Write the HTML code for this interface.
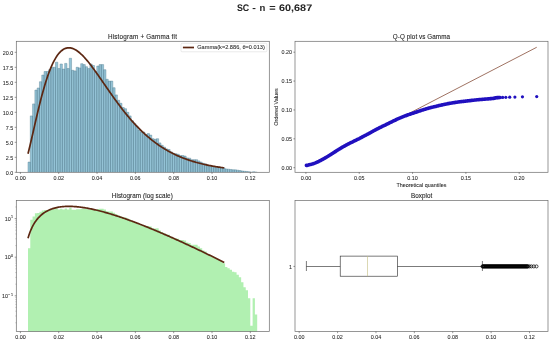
<!DOCTYPE html><html><head><meta charset="utf-8"><style>html,body{margin:0;padding:0;background:#fff;}svg{display:block;will-change:transform}text{font-family:"Liberation Sans",sans-serif;fill:#262626;stroke:#262626;stroke-width:0.06px}</style></head><body>
<svg width="550" height="343" viewBox="0 0 550 343">
<rect x="0" y="0" width="550" height="343" fill="#fff"/>
<text transform="scale(0.25)" x="947.6" y="43.2" font-size="38.0" font-weight="bold" text-rendering="geometricPrecision" fill="#111" stroke="#111" stroke-width="2.0" textLength="49.2" lengthAdjust="spacingAndGlyphs">SC</text>
<text transform="scale(0.25)" x="1008.8" y="43.2" font-size="38.0" font-weight="bold" text-rendering="geometricPrecision" fill="#111" stroke="#111" stroke-width="2.0" textLength="14.4" lengthAdjust="spacingAndGlyphs">-</text>
<text transform="scale(0.25)" x="1038.4" y="43.2" font-size="38.0" font-weight="bold" text-rendering="geometricPrecision" fill="#111" stroke="#111" stroke-width="2.0" textLength="23.2" lengthAdjust="spacingAndGlyphs">n</text>
<text transform="scale(0.25)" x="1077.2" y="43.2" font-size="38.0" font-weight="bold" text-rendering="geometricPrecision" fill="#111" stroke="#111" stroke-width="2.0" textLength="25.6" lengthAdjust="spacingAndGlyphs">=</text>
<text transform="scale(0.25)" x="1116.0" y="43.2" font-size="38.0" font-weight="bold" text-rendering="geometricPrecision" fill="#111" stroke="#111" stroke-width="2.0" textLength="132.8" lengthAdjust="spacingAndGlyphs">60,687</text>
<clipPath id="cTL"><rect x="16.3" y="41.3" width="253.0" height="131.0"/></clipPath>
<g clip-path="url(#cTL)">
<path d="M28.00 172.3V162.10H30.29V172.3M30.29 172.3V115.90H32.58V172.3M32.58 172.3V103.90H34.88V172.3M34.88 172.3V90.10H37.17V172.3M37.17 172.3V88.00H39.46V172.3M39.46 172.3V81.70H41.75V172.3M41.75 172.3V75.10H44.04V172.3M44.04 172.3V71.50H46.34V172.3M46.34 172.3V71.50H48.63V172.3M48.63 172.3V69.70H50.92V172.3M50.92 172.3V67.30H53.21V172.3M53.21 172.3V67.30H55.50V172.3M55.50 172.3V62.20H57.80V172.3M57.80 172.3V68.50H60.09V172.3M60.09 172.3V64.00H62.38V172.3M62.38 172.3V69.10H64.67V172.3M64.67 172.3V63.40H66.96V172.3M66.96 172.3V68.50H69.26V172.3M69.26 172.3V58.30H71.55V172.3M71.55 172.3V70.30H73.84V172.3M73.84 172.3V70.90H76.13V172.3M76.13 172.3V67.30H78.42V172.3M78.42 172.3V67.90H80.72V172.3M80.72 172.3V63.70H83.01V172.3M83.01 172.3V64.60H85.30V172.3M85.30 172.3V66.70H87.59V172.3M87.59 172.3V68.50H89.88V172.3M89.88 172.3V64.00H92.18V172.3M92.18 172.3V65.50H94.47V172.3M94.47 172.3V71.50H96.76V172.3M96.76 172.3V66.10H99.05V172.3M99.05 172.3V64.60H101.34V172.3M101.34 172.3V64.60H103.64V172.3M103.64 172.3V69.70H105.93V172.3M105.93 172.3V79.30H108.22V172.3M108.22 172.3V81.10H110.51V172.3M110.51 172.3V81.10H112.80V172.3M112.80 172.3V87.70H115.10V172.3M115.10 172.3V94.90H117.39V172.3M117.39 172.3V100.30H119.68V172.3M119.68 172.3V103.30H121.97V172.3M121.97 172.3V107.50H124.26V172.3M124.26 172.3V108.70H126.56V172.3M126.56 172.3V112.30H128.85V172.3M128.85 172.3V115.90H131.14V172.3M131.14 172.3V120.70H133.43V172.3M133.43 172.3V123.40H135.72V172.3M135.72 172.3V126.10H138.02V172.3M138.02 172.3V130.00H140.31V172.3M140.31 172.3V132.10H142.60V172.3M142.60 172.3V132.10H144.89V172.3M144.89 172.3V134.50H147.18V172.3M147.18 172.3V133.60H149.48V172.3M149.48 172.3V135.10H151.77V172.3M151.77 172.3V138.70H154.06V172.3M154.06 172.3V139.30H156.35V172.3M156.35 172.3V138.70H158.64V172.3M158.64 172.3V142.90H160.94V172.3M160.94 172.3V145.30H163.23V172.3M163.23 172.3V147.10H165.52V172.3M165.52 172.3V148.90H167.81V172.3M167.81 172.3V149.50H170.10V172.3M170.10 172.3V151.90H172.40V172.3M172.40 172.3V153.40H174.69V172.3M174.69 172.3V153.70H176.98V172.3M176.98 172.3V154.30H179.27V172.3M179.27 172.3V155.50H181.56V172.3M181.56 172.3V155.50H183.86V172.3M183.86 172.3V156.10H186.15V172.3M186.15 172.3V157.90H188.44V172.3M188.44 172.3V158.20H190.73V172.3M190.73 172.3V159.70H193.02V172.3M193.02 172.3V159.70H195.32V172.3M195.32 172.3V159.70H197.61V172.3M197.61 172.3V160.90H199.90V172.3M199.90 172.3V162.10H202.19V172.3M202.19 172.3V163.30H204.48V172.3M204.48 172.3V163.90H206.78V172.3M206.78 172.3V165.10H209.07V172.3M209.07 172.3V165.70H211.36V172.3M211.36 172.3V166.00H213.65V172.3M213.65 172.3V166.60H215.94V172.3M215.94 172.3V166.90H218.24V172.3M218.24 172.3V167.20H220.53V172.3M220.53 172.3V167.50H222.82V172.3M222.82 172.3V168.10H225.11V172.3M225.11 172.3V168.94H227.40V172.3M227.40 172.3V169.18H229.70V172.3M229.70 172.3V169.48H231.99V172.3M231.99 172.3V169.78H234.28V172.3M234.28 172.3V169.86H236.57V172.3M236.57 172.3V170.20H238.86V172.3M238.86 172.3V170.49H241.16V172.3M241.16 172.3V170.96H243.45V172.3M243.45 172.3V171.30H245.74V172.3M245.74 172.3V171.46H248.03V172.3M248.03 172.3V171.78H250.32V172.3M250.32 172.3V172.20H252.62V172.3M252.62 172.3V171.78H254.91V172.3M254.91 172.3V172.10H257.20V172.3" fill="#94c3d6" stroke="#5d8799" stroke-width="0.45"/>
<polyline points="28.00,153.73 28.99,149.80 29.97,145.72 30.96,141.53 31.94,137.25 32.93,132.94 33.92,128.60 34.90,124.28 35.89,119.98 36.88,115.74 37.86,111.56 38.85,107.47 39.83,103.47 40.82,99.58 41.81,95.81 42.79,92.17 43.78,88.66 44.77,85.29 45.75,82.06 46.74,78.98 47.72,76.05 48.71,73.27 49.70,70.65 50.68,68.18 51.67,65.86 52.66,63.69 53.64,61.67 54.63,59.81 55.61,58.09 56.60,56.52 57.59,55.09 58.57,53.80 59.56,52.64 60.55,51.62 61.53,50.73 62.52,49.96 63.50,49.32 64.49,48.80 65.48,48.39 66.46,48.09 67.45,47.90 68.44,47.81 69.42,47.82 70.41,47.92 71.39,48.12 72.38,48.40 73.37,48.77 74.35,49.22 75.34,49.74 76.33,50.33 77.31,51.00 78.30,51.72 79.28,52.51 80.27,53.36 81.26,54.26 82.24,55.21 83.23,56.21 84.22,57.25 85.20,58.34 86.19,59.47 87.17,60.63 88.16,61.82 89.15,63.05 90.13,64.30 91.12,65.58 92.11,66.89 93.09,68.21 94.08,69.56 95.06,70.92 96.05,72.29 97.04,73.68 98.02,75.08 99.01,76.49 100.00,77.91 100.98,79.33 101.97,80.76 102.95,82.19 103.94,83.62 104.93,85.05 105.91,86.48 106.90,87.91 107.89,89.34 108.87,90.76 109.86,92.17 110.84,93.58 111.83,94.98 112.82,96.37 113.80,97.76 114.79,99.13 115.78,100.50 116.76,101.85 117.75,103.19 118.73,104.52 119.72,105.83 120.71,107.13 121.69,108.42 122.68,109.69 123.67,110.95 124.65,112.20 125.64,113.43 126.62,114.64 127.61,115.84 128.60,117.02 129.58,118.18 130.57,119.33 131.56,120.46 132.54,121.58 133.53,122.68 134.51,123.76 135.50,124.82 136.49,125.87 137.47,126.90 138.46,127.92 139.45,128.92 140.43,129.90 141.42,130.86 142.40,131.81 143.39,132.74 144.38,133.65 145.36,134.54 146.35,135.42 147.34,136.29 148.32,137.14 149.31,137.97 150.29,138.78 151.28,139.58 152.27,140.37 153.25,141.14 154.24,141.89 155.23,142.63 156.21,143.35 157.20,144.06 158.18,144.75 159.17,145.43 160.16,146.10 161.14,146.75 162.13,147.38 163.12,148.01 164.10,148.62 165.09,149.21 166.07,149.80 167.06,150.37 168.05,150.93 169.03,151.47 170.02,152.00 171.01,152.53 171.99,153.04 172.98,153.53 173.96,154.02 174.95,154.49 175.94,154.96 176.92,155.41 177.91,155.85 178.90,156.29 179.88,156.71 180.87,157.12 181.85,157.52 182.84,157.92 183.83,158.30 184.81,158.67 185.80,159.04 186.79,159.39 187.77,159.74 188.76,160.08 189.74,160.41 190.73,160.73 191.72,161.05 192.70,161.35 193.69,161.65 194.68,161.94 195.66,162.23 196.65,162.50 197.63,162.77 198.62,163.03 199.61,163.29 200.59,163.54 201.58,163.78 202.57,164.02 203.55,164.25 204.54,164.47 205.52,164.69 206.51,164.91 207.50,165.11 208.48,165.31 209.47,165.51 210.45,165.70 211.44,165.89 212.43,166.07 213.41,166.25 214.40,166.42 215.39,166.59 216.37,166.75 217.36,166.91 218.34,167.06 219.33,167.21 220.32,167.36 221.30,167.50 222.29,167.64 223.28,167.77 224.26,167.90" fill="none" stroke="#5c2712" stroke-width="1.7"/>
</g>
<rect x="16.3" y="41.3" width="253.0" height="131.0" fill="none" stroke="#6a6a6a" stroke-width="0.7"/>
<rect x="181.0" y="43.3" width="85.9" height="8.5" rx="1" fill="#fff" fill-opacity="0.8" stroke="#ccc" stroke-width="0.4"/>
<line x1="182.9" y1="47.5" x2="194" y2="47.5" stroke="#5c2712" stroke-width="1.7"/>
<text x="197.2" y="49.3" font-size="4.7" style="stroke-width:0.06px" textLength="67.6" lengthAdjust="spacingAndGlyphs">Gamma(k=2.886, θ=0.013)</text>
<line x1="20.40" y1="172.3" x2="20.40" y2="173.9" stroke="#333" stroke-width="0.5"/>
<text x="20.40" y="180.2" text-anchor="middle" font-size="5.4">0.00</text>
<line x1="58.72" y1="172.3" x2="58.72" y2="173.9" stroke="#333" stroke-width="0.5"/>
<text x="58.72" y="180.2" text-anchor="middle" font-size="5.4">0.02</text>
<line x1="97.04" y1="172.3" x2="97.04" y2="173.9" stroke="#333" stroke-width="0.5"/>
<text x="97.04" y="180.2" text-anchor="middle" font-size="5.4">0.04</text>
<line x1="135.36" y1="172.3" x2="135.36" y2="173.9" stroke="#333" stroke-width="0.5"/>
<text x="135.36" y="180.2" text-anchor="middle" font-size="5.4">0.06</text>
<line x1="173.68" y1="172.3" x2="173.68" y2="173.9" stroke="#333" stroke-width="0.5"/>
<text x="173.68" y="180.2" text-anchor="middle" font-size="5.4">0.08</text>
<line x1="212.00" y1="172.3" x2="212.00" y2="173.9" stroke="#333" stroke-width="0.5"/>
<text x="212.00" y="180.2" text-anchor="middle" font-size="5.4">0.10</text>
<line x1="250.32" y1="172.3" x2="250.32" y2="173.9" stroke="#333" stroke-width="0.5"/>
<text x="250.32" y="180.2" text-anchor="middle" font-size="5.4">0.12</text>
<line x1="14.700000000000001" y1="172.30" x2="16.3" y2="172.30" stroke="#333" stroke-width="0.5"/>
<text x="13.2" y="174.50" text-anchor="end" font-size="5.4">0.0</text>
<line x1="14.700000000000001" y1="157.30" x2="16.3" y2="157.30" stroke="#333" stroke-width="0.5"/>
<text x="13.2" y="159.50" text-anchor="end" font-size="5.4">2.5</text>
<line x1="14.700000000000001" y1="142.30" x2="16.3" y2="142.30" stroke="#333" stroke-width="0.5"/>
<text x="13.2" y="144.50" text-anchor="end" font-size="5.4">5.0</text>
<line x1="14.700000000000001" y1="127.30" x2="16.3" y2="127.30" stroke="#333" stroke-width="0.5"/>
<text x="13.2" y="129.50" text-anchor="end" font-size="5.4">7.5</text>
<line x1="14.700000000000001" y1="112.30" x2="16.3" y2="112.30" stroke="#333" stroke-width="0.5"/>
<text x="13.2" y="114.50" text-anchor="end" font-size="5.4">10.0</text>
<line x1="14.700000000000001" y1="97.30" x2="16.3" y2="97.30" stroke="#333" stroke-width="0.5"/>
<text x="13.2" y="99.50" text-anchor="end" font-size="5.4">12.5</text>
<line x1="14.700000000000001" y1="82.30" x2="16.3" y2="82.30" stroke="#333" stroke-width="0.5"/>
<text x="13.2" y="84.50" text-anchor="end" font-size="5.4">15.0</text>
<line x1="14.700000000000001" y1="67.30" x2="16.3" y2="67.30" stroke="#333" stroke-width="0.5"/>
<text x="13.2" y="69.50" text-anchor="end" font-size="5.4">17.5</text>
<line x1="14.700000000000001" y1="52.30" x2="16.3" y2="52.30" stroke="#333" stroke-width="0.5"/>
<text x="13.2" y="54.50" text-anchor="end" font-size="5.4">20.0</text>
<text x="142.4" y="38.7" text-anchor="middle" font-size="6.3" textLength="69" lengthAdjust="spacing" style="stroke-width:0.1px">Histogram + Gamma fit</text>
<clipPath id="cTR"><rect x="295.0" y="41.3" width="253.0" height="131.0"/></clipPath>
<g clip-path="url(#cTR)">
<line x1="306.40" y1="166.58" x2="536.74" y2="47.26" stroke="#946250" stroke-width="0.9"/>
<polyline points="306.40,165.41 307.00,165.37 307.62,165.28 308.22,165.10 308.83,164.82 309.44,164.67 310.04,164.57 310.64,164.46 311.25,164.31 311.85,164.14 312.45,163.96 313.05,163.78 313.65,163.57 314.26,163.34 314.86,163.13 315.46,162.90 316.06,162.65 316.66,162.39 317.26,162.12 317.86,161.84 318.46,161.55 319.06,161.25 319.66,160.96 320.26,160.66 320.86,160.35 321.47,160.03 322.07,159.71 322.67,159.38 323.27,159.04 323.87,158.69 324.47,158.34 325.07,157.99 325.67,157.64 326.27,157.28 326.87,156.92 327.47,156.57 328.07,156.20 328.67,155.81 329.27,155.44 329.87,155.07 330.47,154.68 331.07,154.29 331.67,153.91 332.27,153.53 332.87,153.14 333.47,152.76 334.07,152.41 334.67,152.02 335.28,151.62 335.88,151.22 336.48,150.83 337.08,150.44 337.68,150.06 338.28,149.68 338.88,149.31 339.48,148.95 340.08,148.59 340.68,148.24 341.28,147.88 341.88,147.52 342.48,147.16 343.08,146.81 343.68,146.47 344.28,146.14 344.88,145.81 345.48,145.48 346.08,145.14 346.68,144.80 347.29,144.48 347.89,144.16 348.49,143.86 349.09,143.56 349.69,143.26 350.29,142.97 350.89,142.69 351.49,142.40 352.09,142.11 352.69,141.82 353.29,141.51 353.89,141.21 354.49,140.90 355.09,140.61 355.69,140.31 356.29,140.03 356.89,139.74 357.50,139.44 358.10,139.15 358.70,138.84 359.30,138.54 359.90,138.22 360.50,137.91 361.10,137.59 361.70,137.28 362.30,136.96 362.90,136.64 363.50,136.33 364.10,136.02 364.70,135.71 365.31,135.39 365.91,135.09 366.51,134.77 367.11,134.46 367.71,134.13 368.31,133.81 368.91,133.48 369.51,133.15 370.11,132.82 370.72,132.49 371.32,132.16 371.92,131.81 372.52,131.47 373.12,131.13 373.72,130.79 374.32,130.46 374.93,130.14 375.53,129.81 376.13,129.48 376.73,129.17 377.33,128.87 377.93,128.57 378.53,128.28 379.14,127.98 379.74,127.67 380.34,127.36 380.94,127.06 381.54,126.77 382.14,126.49 382.74,126.22 383.35,125.94 383.95,125.65 384.55,125.36 385.15,125.06 385.76,124.77 386.36,124.47 386.96,124.17 387.56,123.87 388.16,123.57 388.77,123.27 389.37,122.98 389.97,122.69 390.58,122.39 391.18,122.09 391.78,121.79 392.38,121.48 392.98,121.18 393.59,120.89 394.19,120.60 394.79,120.31 395.39,120.03 396.00,119.76 396.60,119.47 397.20,119.20 397.81,118.93 398.41,118.67 399.01,118.42 399.62,118.17 400.22,117.93 400.83,117.68 401.43,117.42 402.03,117.17 402.64,116.92 403.24,116.68 403.85,116.44 404.46,116.19 405.06,115.95 405.67,115.70 406.28,115.47 406.88,115.25 407.49,115.03 408.09,114.82 408.69,114.61 409.31,114.41 409.91,114.21 410.51,114.00 411.13,113.80 411.74,113.60 412.34,113.39 412.95,113.19 413.55,112.99 414.16,112.79 414.77,112.57 415.38,112.37 416.00,112.17 416.61,111.96 417.22,111.76 417.82,111.57 418.43,111.36 419.03,111.15 419.65,110.94 420.27,110.74 420.89,110.53 421.49,110.32 422.09,110.13 422.72,109.93 423.33,109.74 423.93,109.55 424.55,109.36 425.16,109.17 425.80,108.98 426.42,108.80 427.02,108.62 427.65,108.44 428.26,108.26 428.89,108.09 429.50,107.93 430.13,107.76 430.74,107.60 431.37,107.44 431.98,107.29 432.61,107.13 433.26,106.97 433.88,106.83 434.53,106.68 435.14,106.53 435.77,106.38 436.43,106.23 437.04,106.09 437.68,105.95 438.35,105.77 438.96,105.62 439.60,105.47 440.27,105.31 440.88,105.16 441.51,105.02 442.17,104.87 442.85,104.72 443.47,104.59 444.11,104.44 444.78,104.30 445.47,104.16 446.09,104.04 446.72,103.91 447.39,103.77 448.07,103.64 448.79,103.50 449.41,103.38 450.05,103.27 450.71,103.15 451.40,103.03 452.12,102.92 452.87,102.80 453.50,102.70 454.15,102.61 454.82,102.51 455.52,102.40 456.25,102.29 457.01,102.18 457.81,102.07 458.43,101.99 459.07,101.90 459.74,101.82 460.44,101.72 461.16,101.63 461.92,101.53 462.71,101.44 463.55,101.34 464.42,101.24 465.03,101.18 465.66,101.10 466.31,101.02 466.99,100.93 467.70,100.84 468.43,100.76 469.20,100.67 470.01,100.59 470.86,100.50 471.75,100.40 472.69,100.28 473.69,100.17 474.75,100.05 475.87,99.94 477.08,99.82 477.72,99.76 478.38,99.69 479.07,99.62 479.79,99.55 480.54,99.48 481.33,99.42 482.15,99.35 483.02,99.28 483.93,99.21 484.90,99.14 485.93,99.06 487.02,98.95 488.19,98.84 489.44,98.73 490.80,98.61 492.28,98.50 493.90,98.36 495.69,97.78 497.70,97.61 499.99,97.50" fill="none" stroke="#2010bf" stroke-width="3.6" stroke-linecap="round" stroke-linejoin="round"/>
<circle cx="490.80" cy="98.61" r="1.6" fill="#2010bf"/>
<circle cx="492.28" cy="98.50" r="1.6" fill="#2010bf"/>
<circle cx="493.90" cy="98.36" r="1.6" fill="#2010bf"/>
<circle cx="495.69" cy="97.78" r="1.6" fill="#2010bf"/>
<circle cx="497.70" cy="97.61" r="1.6" fill="#2010bf"/>
<circle cx="499.99" cy="97.50" r="1.6" fill="#2010bf"/>
<circle cx="502.65" cy="97.39" r="1.6" fill="#2010bf"/>
<circle cx="505.81" cy="97.28" r="1.6" fill="#2010bf"/>
<circle cx="509.74" cy="97.16" r="1.6" fill="#2010bf"/>
<circle cx="514.89" cy="97.05" r="1.6" fill="#2010bf"/>
<circle cx="522.45" cy="96.82" r="1.6" fill="#2010bf"/>
<circle cx="536.74" cy="96.53" r="1.6" fill="#2010bf"/>
</g>
<rect x="295.0" y="41.3" width="253.0" height="131.0" fill="none" stroke="#6a6a6a" stroke-width="0.7"/>
<line x1="305.90" y1="172.3" x2="305.90" y2="173.9" stroke="#333" stroke-width="0.5"/>
<text x="305.90" y="180.2" text-anchor="middle" font-size="5.4">0.00</text>
<line x1="359.22" y1="172.3" x2="359.22" y2="173.9" stroke="#333" stroke-width="0.5"/>
<text x="359.22" y="180.2" text-anchor="middle" font-size="5.4">0.05</text>
<line x1="412.55" y1="172.3" x2="412.55" y2="173.9" stroke="#333" stroke-width="0.5"/>
<text x="412.55" y="180.2" text-anchor="middle" font-size="5.4">0.10</text>
<line x1="465.88" y1="172.3" x2="465.88" y2="173.9" stroke="#333" stroke-width="0.5"/>
<text x="465.88" y="180.2" text-anchor="middle" font-size="5.4">0.15</text>
<line x1="519.20" y1="172.3" x2="519.20" y2="173.9" stroke="#333" stroke-width="0.5"/>
<text x="519.20" y="180.2" text-anchor="middle" font-size="5.4">0.20</text>
<line x1="293.4" y1="167.70" x2="295.0" y2="167.70" stroke="#333" stroke-width="0.5"/>
<text x="292.0" y="169.90" text-anchor="end" font-size="5.4">0.00</text>
<line x1="293.4" y1="138.82" x2="295.0" y2="138.82" stroke="#333" stroke-width="0.5"/>
<text x="292.0" y="141.02" text-anchor="end" font-size="5.4">0.05</text>
<line x1="293.4" y1="109.95" x2="295.0" y2="109.95" stroke="#333" stroke-width="0.5"/>
<text x="292.0" y="112.15" text-anchor="end" font-size="5.4">0.10</text>
<line x1="293.4" y1="81.07" x2="295.0" y2="81.07" stroke="#333" stroke-width="0.5"/>
<text x="292.0" y="83.27" text-anchor="end" font-size="5.4">0.15</text>
<line x1="293.4" y1="52.20" x2="295.0" y2="52.20" stroke="#333" stroke-width="0.5"/>
<text x="292.0" y="54.40" text-anchor="end" font-size="5.4">0.20</text>
<text x="421.4" y="186.6" text-anchor="middle" font-size="5.4" textLength="50" lengthAdjust="spacingAndGlyphs">Theoretical quantiles</text>
<text transform="translate(278,107) rotate(-90)" x="0" y="0" text-anchor="middle" font-size="5.4" textLength="37.6" lengthAdjust="spacingAndGlyphs">Ordered Values</text>
<text x="421.4" y="38.7" text-anchor="middle" font-size="6.3" textLength="57.2" lengthAdjust="spacing" style="stroke-width:0.1px">Q-Q plot vs Gamma</text>
<clipPath id="cBL"><rect x="16.3" y="200.5" width="253.0" height="131.10000000000002"/></clipPath>
<g clip-path="url(#cBL)">
<path d="M28.00 336.6V248.30H30.29V336.6M30.29 336.6V219.64H32.58V336.6M32.58 336.6V216.40H34.88V336.6M34.88 336.6V213.32H37.17V336.6M37.17 336.6V212.90H39.46V336.6M39.46 336.6V211.69H41.75V336.6M41.75 336.6V210.51H44.04V336.6M44.04 336.6V209.90H46.34V336.6M46.34 336.6V209.90H48.63V336.6M48.63 336.6V209.61H50.92V336.6M50.92 336.6V209.22H53.21V336.6M53.21 336.6V209.22H55.50V336.6M55.50 336.6V208.42H57.80V336.6M57.80 336.6V209.41H60.09V336.6M60.09 336.6V208.70H62.38V336.6M62.38 336.6V209.51H64.67V336.6M64.67 336.6V208.61H66.96V336.6M66.96 336.6V209.41H69.26V336.6M69.26 336.6V207.84H71.55V336.6M71.55 336.6V209.70H73.84V336.6M73.84 336.6V209.80H76.13V336.6M76.13 336.6V209.22H78.42V336.6M78.42 336.6V209.31H80.72V336.6M80.72 336.6V208.65H83.01V336.6M83.01 336.6V208.79H85.30V336.6M85.30 336.6V209.12H87.59V336.6M87.59 336.6V209.41H89.88V336.6M89.88 336.6V208.70H92.18V336.6M92.18 336.6V208.93H94.47V336.6M94.47 336.6V209.90H96.76V336.6M96.76 336.6V209.03H99.05V336.6M99.05 336.6V208.79H101.34V336.6M101.34 336.6V208.79H103.64V336.6M103.64 336.6V209.61H105.93V336.6M105.93 336.6V211.25H108.22V336.6M108.22 336.6V211.58H110.51V336.6M110.51 336.6V211.58H112.80V336.6M112.80 336.6V212.84H115.10V336.6M115.10 336.6V214.33H117.39V336.6M117.39 336.6V215.54H119.68V336.6M119.68 336.6V216.26H121.97V336.6M121.97 336.6V217.31H124.26V336.6M124.26 336.6V217.62H126.56V336.6M126.56 336.6V218.60H128.85V336.6M128.85 336.6V219.64H131.14V336.6M131.14 336.6V221.13H133.43V336.6M133.43 336.6V222.03H135.72V336.6M135.72 336.6V222.98H138.02V336.6M138.02 336.6V224.46H140.31V336.6M140.31 336.6V225.31H142.60V336.6M142.60 336.6V225.31H144.89V336.6M144.89 336.6V226.35H147.18V336.6M147.18 336.6V225.95H149.48V336.6M149.48 336.6V226.61H151.77V336.6M151.77 336.6V228.32H154.06V336.6M154.06 336.6V228.62H156.35V336.6M156.35 336.6V228.32H158.64V336.6M158.64 336.6V230.56H160.94V336.6M160.94 336.6V231.99H163.23V336.6M163.23 336.6V233.14H165.52V336.6M165.52 336.6V234.38H167.81V336.6M167.81 336.6V234.82H170.10V336.6M170.10 336.6V236.68H172.40V336.6M172.40 336.6V237.97H174.69V336.6M174.69 336.6V238.23H176.98V336.6M176.98 336.6V238.78H179.27V336.6M179.27 336.6V239.94H181.56V336.6M181.56 336.6V239.94H183.86V336.6M183.86 336.6V240.55H186.15V336.6M186.15 336.6V242.52H188.44V336.6M188.44 336.6V242.88H190.73V336.6M190.73 336.6V244.76H193.02V336.6M193.02 336.6V244.76H195.32V336.6M195.32 336.6V244.76H197.61V336.6M197.61 336.6V246.44H199.90V336.6M199.90 336.6V248.30H202.19V336.6M202.19 336.6V250.40H204.48V336.6M204.48 336.6V251.56H206.78V336.6M206.78 336.6V254.14H209.07V336.6M209.07 336.6V255.60H211.36V336.6M211.36 336.6V256.38H213.65V336.6M213.65 336.6V258.06H215.94V336.6M215.94 336.6V258.97H218.24V336.6M218.24 336.6V259.92H220.53V336.6M220.53 336.6V260.94H222.82V336.6M222.82 336.6V263.18H225.11V336.6M225.11 336.6V266.92H227.40V336.6M227.40 336.6V268.16H229.70V336.6M229.70 336.6V269.86H231.99V336.6M231.99 336.6V271.74H234.28V336.6M234.28 336.6V272.31H236.57V336.6M236.57 336.6V274.80H238.86V336.6M238.86 336.6V277.27H241.16V336.6M241.16 336.6V282.28H243.45V336.6M243.45 336.6V287.20H245.74V336.6M245.74 336.6V290.16H248.03V336.6M248.03 336.6V298.33H250.32V336.6M250.32 336.6V325.70H252.62V336.6M252.62 336.6V298.33H254.91V336.6M254.91 336.6V314.39H257.20V336.6" fill="#b1f0b1" stroke="none"/>
<polyline points="28.00,238.26 28.99,235.04 29.97,232.25 30.96,229.79 31.94,227.61 32.93,225.67 33.92,223.91 34.90,222.33 35.89,220.90 36.88,219.59 37.86,218.39 38.85,217.30 39.83,216.30 40.82,215.38 41.81,214.53 42.79,213.75 43.78,213.03 44.77,212.37 45.75,211.76 46.74,211.20 47.72,210.68 48.71,210.20 49.70,209.76 50.68,209.36 51.67,208.99 52.66,208.65 53.64,208.34 54.63,208.06 55.61,207.81 56.60,207.58 57.59,207.37 58.57,207.19 59.56,207.03 60.55,206.89 61.53,206.76 62.52,206.66 63.50,206.57 64.49,206.50 65.48,206.44 66.46,206.40 67.45,206.38 68.44,206.36 69.42,206.37 70.41,206.38 71.39,206.41 72.38,206.44 73.37,206.49 74.35,206.56 75.34,206.63 76.33,206.71 77.31,206.80 78.30,206.90 79.28,207.01 80.27,207.13 81.26,207.26 82.24,207.39 83.23,207.54 84.22,207.69 85.20,207.85 86.19,208.01 87.17,208.19 88.16,208.37 89.15,208.55 90.13,208.75 91.12,208.95 92.11,209.15 93.09,209.37 94.08,209.58 95.06,209.81 96.05,210.04 97.04,210.27 98.02,210.51 99.01,210.75 100.00,211.00 100.98,211.26 101.97,211.52 102.95,211.78 103.94,212.05 104.93,212.32 105.91,212.60 106.90,212.88 107.89,213.17 108.87,213.46 109.86,213.75 110.84,214.05 111.83,214.35 112.82,214.65 113.80,214.96 114.79,215.27 115.78,215.59 116.76,215.91 117.75,216.23 118.73,216.56 119.72,216.88 120.71,217.22 121.69,217.55 122.68,217.89 123.67,218.23 124.65,218.57 125.64,218.92 126.62,219.27 127.61,219.62 128.60,219.97 129.58,220.33 130.57,220.69 131.56,221.05 132.54,221.42 133.53,221.78 134.51,222.15 135.50,222.53 136.49,222.90 137.47,223.28 138.46,223.65 139.45,224.04 140.43,224.42 141.42,224.80 142.40,225.19 143.39,225.58 144.38,225.97 145.36,226.37 146.35,226.76 147.34,227.16 148.32,227.56 149.31,227.96 150.29,228.36 151.28,228.77 152.27,229.17 153.25,229.58 154.24,229.99 155.23,230.40 156.21,230.82 157.20,231.23 158.18,231.65 159.17,232.07 160.16,232.49 161.14,232.91 162.13,233.33 163.12,233.76 164.10,234.18 165.09,234.61 166.07,235.04 167.06,235.47 168.05,235.90 169.03,236.34 170.02,236.77 171.01,237.21 171.99,237.64 172.98,238.08 173.96,238.52 174.95,238.97 175.94,239.41 176.92,239.85 177.91,240.30 178.90,240.74 179.88,241.19 180.87,241.64 181.85,242.09 182.84,242.54 183.83,243.00 184.81,243.45 185.80,243.90 186.79,244.36 187.77,244.82 188.76,245.28 189.74,245.73 190.73,246.19 191.72,246.66 192.70,247.12 193.69,247.58 194.68,248.05 195.66,248.51 196.65,248.98 197.63,249.45 198.62,249.91 199.61,250.38 200.59,250.85 201.58,251.33 202.57,251.80 203.55,252.27 204.54,252.75 205.52,253.22 206.51,253.70 207.50,254.17 208.48,254.65 209.47,255.13 210.45,255.61 211.44,256.09 212.43,256.57 213.41,257.05 214.40,257.54 215.39,258.02 216.37,258.50 217.36,258.99 218.34,259.48 219.33,259.96 220.32,260.45 221.30,260.94 222.29,261.43 223.28,261.92 224.26,262.41" fill="none" stroke="#5c2712" stroke-width="1.7"/>
</g>
<rect x="16.3" y="200.5" width="253.0" height="131.10000000000002" fill="none" stroke="#6a6a6a" stroke-width="0.7"/>
<line x1="20.40" y1="331.6" x2="20.40" y2="333.20000000000005" stroke="#333" stroke-width="0.5"/>
<text x="20.40" y="339.0" text-anchor="middle" font-size="5.4">0.00</text>
<line x1="58.72" y1="331.6" x2="58.72" y2="333.20000000000005" stroke="#333" stroke-width="0.5"/>
<text x="58.72" y="339.0" text-anchor="middle" font-size="5.4">0.02</text>
<line x1="97.04" y1="331.6" x2="97.04" y2="333.20000000000005" stroke="#333" stroke-width="0.5"/>
<text x="97.04" y="339.0" text-anchor="middle" font-size="5.4">0.04</text>
<line x1="135.36" y1="331.6" x2="135.36" y2="333.20000000000005" stroke="#333" stroke-width="0.5"/>
<text x="135.36" y="339.0" text-anchor="middle" font-size="5.4">0.06</text>
<line x1="173.68" y1="331.6" x2="173.68" y2="333.20000000000005" stroke="#333" stroke-width="0.5"/>
<text x="173.68" y="339.0" text-anchor="middle" font-size="5.4">0.08</text>
<line x1="212.00" y1="331.6" x2="212.00" y2="333.20000000000005" stroke="#333" stroke-width="0.5"/>
<text x="212.00" y="339.0" text-anchor="middle" font-size="5.4">0.10</text>
<line x1="250.32" y1="331.6" x2="250.32" y2="333.20000000000005" stroke="#333" stroke-width="0.5"/>
<text x="250.32" y="339.0" text-anchor="middle" font-size="5.4">0.12</text>
<line x1="14.700000000000001" y1="218.60" x2="16.3" y2="218.60" stroke="#333" stroke-width="0.5"/>
<text x="10.7" y="220.60" text-anchor="end" font-size="5.4">10</text>
<text x="10.9" y="218.40" text-anchor="start" font-size="3.7">1</text>
<line x1="14.700000000000001" y1="257.20" x2="16.3" y2="257.20" stroke="#333" stroke-width="0.5"/>
<text x="10.7" y="259.20" text-anchor="end" font-size="5.4">10</text>
<text x="10.9" y="257.00" text-anchor="start" font-size="3.7">0</text>
<line x1="14.700000000000001" y1="295.80" x2="16.3" y2="295.80" stroke="#333" stroke-width="0.5"/>
<text x="7.9" y="297.80" text-anchor="end" font-size="5.4">10</text>
<text x="8.1" y="295.60" text-anchor="start" font-size="3.7" textLength="4.9" lengthAdjust="spacing">−1</text>
<line x1="15.4" y1="322.78" x2="16.3" y2="322.78" stroke="#555" stroke-width="0.35"/>
<line x1="15.4" y1="315.98" x2="16.3" y2="315.98" stroke="#555" stroke-width="0.35"/>
<line x1="15.4" y1="311.16" x2="16.3" y2="311.16" stroke="#555" stroke-width="0.35"/>
<line x1="15.4" y1="307.42" x2="16.3" y2="307.42" stroke="#555" stroke-width="0.35"/>
<line x1="15.4" y1="304.36" x2="16.3" y2="304.36" stroke="#555" stroke-width="0.35"/>
<line x1="15.4" y1="301.78" x2="16.3" y2="301.78" stroke="#555" stroke-width="0.35"/>
<line x1="15.4" y1="299.54" x2="16.3" y2="299.54" stroke="#555" stroke-width="0.35"/>
<line x1="15.4" y1="297.57" x2="16.3" y2="297.57" stroke="#555" stroke-width="0.35"/>
<line x1="15.4" y1="284.18" x2="16.3" y2="284.18" stroke="#555" stroke-width="0.35"/>
<line x1="15.4" y1="277.38" x2="16.3" y2="277.38" stroke="#555" stroke-width="0.35"/>
<line x1="15.4" y1="272.56" x2="16.3" y2="272.56" stroke="#555" stroke-width="0.35"/>
<line x1="15.4" y1="268.82" x2="16.3" y2="268.82" stroke="#555" stroke-width="0.35"/>
<line x1="15.4" y1="265.76" x2="16.3" y2="265.76" stroke="#555" stroke-width="0.35"/>
<line x1="15.4" y1="263.18" x2="16.3" y2="263.18" stroke="#555" stroke-width="0.35"/>
<line x1="15.4" y1="260.94" x2="16.3" y2="260.94" stroke="#555" stroke-width="0.35"/>
<line x1="15.4" y1="258.97" x2="16.3" y2="258.97" stroke="#555" stroke-width="0.35"/>
<line x1="15.4" y1="245.58" x2="16.3" y2="245.58" stroke="#555" stroke-width="0.35"/>
<line x1="15.4" y1="238.78" x2="16.3" y2="238.78" stroke="#555" stroke-width="0.35"/>
<line x1="15.4" y1="233.96" x2="16.3" y2="233.96" stroke="#555" stroke-width="0.35"/>
<line x1="15.4" y1="230.22" x2="16.3" y2="230.22" stroke="#555" stroke-width="0.35"/>
<line x1="15.4" y1="227.16" x2="16.3" y2="227.16" stroke="#555" stroke-width="0.35"/>
<line x1="15.4" y1="224.58" x2="16.3" y2="224.58" stroke="#555" stroke-width="0.35"/>
<line x1="15.4" y1="222.34" x2="16.3" y2="222.34" stroke="#555" stroke-width="0.35"/>
<line x1="15.4" y1="220.37" x2="16.3" y2="220.37" stroke="#555" stroke-width="0.35"/>
<line x1="15.4" y1="206.98" x2="16.3" y2="206.98" stroke="#555" stroke-width="0.35"/>
<text x="142.3" y="198.4" text-anchor="middle" font-size="6.3" textLength="61" lengthAdjust="spacing" style="stroke-width:0.1px">Histogram (log scale)</text>
<rect x="295.0" y="200.5" width="253.0" height="131.10000000000002" fill="none" stroke="#6a6a6a" stroke-width="0.7"/>
<rect x="340.2" y="256.1" width="57.19999999999999" height="20.099999999999966" fill="none" stroke="#222" stroke-width="0.6"/>
<line x1="367.5" y1="256.1" x2="367.5" y2="276.2" stroke="#c2bd80" stroke-width="0.6"/>
<line x1="306.4" y1="266.5" x2="340.2" y2="266.5" stroke="#333" stroke-width="0.65"/>
<line x1="397.4" y1="266.5" x2="482.4" y2="266.5" stroke="#333" stroke-width="0.65"/>
<line x1="306.4" y1="261" x2="306.4" y2="271" stroke="#222" stroke-width="0.6"/>
<line x1="482.4" y1="261" x2="482.4" y2="271" stroke="#222" stroke-width="0.6"/>
<circle cx="482.50" cy="266.4" r="1.55" fill="none" stroke="#000" stroke-width="0.7"/>
<circle cx="483.00" cy="266.4" r="1.55" fill="none" stroke="#000" stroke-width="0.7"/>
<circle cx="483.50" cy="266.4" r="1.55" fill="none" stroke="#000" stroke-width="0.7"/>
<circle cx="484.00" cy="266.4" r="1.55" fill="none" stroke="#000" stroke-width="0.7"/>
<circle cx="484.50" cy="266.4" r="1.55" fill="none" stroke="#000" stroke-width="0.7"/>
<circle cx="485.00" cy="266.4" r="1.55" fill="none" stroke="#000" stroke-width="0.7"/>
<circle cx="485.50" cy="266.4" r="1.55" fill="none" stroke="#000" stroke-width="0.7"/>
<circle cx="486.00" cy="266.4" r="1.55" fill="none" stroke="#000" stroke-width="0.7"/>
<circle cx="486.50" cy="266.4" r="1.55" fill="none" stroke="#000" stroke-width="0.7"/>
<circle cx="487.00" cy="266.4" r="1.55" fill="none" stroke="#000" stroke-width="0.7"/>
<circle cx="487.50" cy="266.4" r="1.55" fill="none" stroke="#000" stroke-width="0.7"/>
<circle cx="488.00" cy="266.4" r="1.55" fill="none" stroke="#000" stroke-width="0.7"/>
<circle cx="488.50" cy="266.4" r="1.55" fill="none" stroke="#000" stroke-width="0.7"/>
<circle cx="489.00" cy="266.4" r="1.55" fill="none" stroke="#000" stroke-width="0.7"/>
<circle cx="489.50" cy="266.4" r="1.55" fill="none" stroke="#000" stroke-width="0.7"/>
<circle cx="490.00" cy="266.4" r="1.55" fill="none" stroke="#000" stroke-width="0.7"/>
<circle cx="490.50" cy="266.4" r="1.55" fill="none" stroke="#000" stroke-width="0.7"/>
<circle cx="491.00" cy="266.4" r="1.55" fill="none" stroke="#000" stroke-width="0.7"/>
<circle cx="491.50" cy="266.4" r="1.55" fill="none" stroke="#000" stroke-width="0.7"/>
<circle cx="492.00" cy="266.4" r="1.55" fill="none" stroke="#000" stroke-width="0.7"/>
<circle cx="492.50" cy="266.4" r="1.55" fill="none" stroke="#000" stroke-width="0.7"/>
<circle cx="493.00" cy="266.4" r="1.55" fill="none" stroke="#000" stroke-width="0.7"/>
<circle cx="493.50" cy="266.4" r="1.55" fill="none" stroke="#000" stroke-width="0.7"/>
<circle cx="494.00" cy="266.4" r="1.55" fill="none" stroke="#000" stroke-width="0.7"/>
<circle cx="494.50" cy="266.4" r="1.55" fill="none" stroke="#000" stroke-width="0.7"/>
<circle cx="495.00" cy="266.4" r="1.55" fill="none" stroke="#000" stroke-width="0.7"/>
<circle cx="495.50" cy="266.4" r="1.55" fill="none" stroke="#000" stroke-width="0.7"/>
<circle cx="496.00" cy="266.4" r="1.55" fill="none" stroke="#000" stroke-width="0.7"/>
<circle cx="496.50" cy="266.4" r="1.55" fill="none" stroke="#000" stroke-width="0.7"/>
<circle cx="497.00" cy="266.4" r="1.55" fill="none" stroke="#000" stroke-width="0.7"/>
<circle cx="497.50" cy="266.4" r="1.55" fill="none" stroke="#000" stroke-width="0.7"/>
<circle cx="498.00" cy="266.4" r="1.55" fill="none" stroke="#000" stroke-width="0.7"/>
<circle cx="498.50" cy="266.4" r="1.55" fill="none" stroke="#000" stroke-width="0.7"/>
<circle cx="499.00" cy="266.4" r="1.55" fill="none" stroke="#000" stroke-width="0.7"/>
<circle cx="499.50" cy="266.4" r="1.55" fill="none" stroke="#000" stroke-width="0.7"/>
<circle cx="500.00" cy="266.4" r="1.55" fill="none" stroke="#000" stroke-width="0.7"/>
<circle cx="500.50" cy="266.4" r="1.55" fill="none" stroke="#000" stroke-width="0.7"/>
<circle cx="501.00" cy="266.4" r="1.55" fill="none" stroke="#000" stroke-width="0.7"/>
<circle cx="501.50" cy="266.4" r="1.55" fill="none" stroke="#000" stroke-width="0.7"/>
<circle cx="502.00" cy="266.4" r="1.55" fill="none" stroke="#000" stroke-width="0.7"/>
<circle cx="502.50" cy="266.4" r="1.55" fill="none" stroke="#000" stroke-width="0.7"/>
<circle cx="503.00" cy="266.4" r="1.55" fill="none" stroke="#000" stroke-width="0.7"/>
<circle cx="503.50" cy="266.4" r="1.55" fill="none" stroke="#000" stroke-width="0.7"/>
<circle cx="504.00" cy="266.4" r="1.55" fill="none" stroke="#000" stroke-width="0.7"/>
<circle cx="504.50" cy="266.4" r="1.55" fill="none" stroke="#000" stroke-width="0.7"/>
<circle cx="505.00" cy="266.4" r="1.55" fill="none" stroke="#000" stroke-width="0.7"/>
<circle cx="505.50" cy="266.4" r="1.55" fill="none" stroke="#000" stroke-width="0.7"/>
<circle cx="506.00" cy="266.4" r="1.55" fill="none" stroke="#000" stroke-width="0.7"/>
<circle cx="506.50" cy="266.4" r="1.55" fill="none" stroke="#000" stroke-width="0.7"/>
<circle cx="507.00" cy="266.4" r="1.55" fill="none" stroke="#000" stroke-width="0.7"/>
<circle cx="507.50" cy="266.4" r="1.55" fill="none" stroke="#000" stroke-width="0.7"/>
<circle cx="508.00" cy="266.4" r="1.55" fill="none" stroke="#000" stroke-width="0.7"/>
<circle cx="508.50" cy="266.4" r="1.55" fill="none" stroke="#000" stroke-width="0.7"/>
<circle cx="509.00" cy="266.4" r="1.55" fill="none" stroke="#000" stroke-width="0.7"/>
<circle cx="509.50" cy="266.4" r="1.55" fill="none" stroke="#000" stroke-width="0.7"/>
<circle cx="510.00" cy="266.4" r="1.55" fill="none" stroke="#000" stroke-width="0.7"/>
<circle cx="510.50" cy="266.4" r="1.55" fill="none" stroke="#000" stroke-width="0.7"/>
<circle cx="511.00" cy="266.4" r="1.55" fill="none" stroke="#000" stroke-width="0.7"/>
<circle cx="511.50" cy="266.4" r="1.55" fill="none" stroke="#000" stroke-width="0.7"/>
<circle cx="512.00" cy="266.4" r="1.55" fill="none" stroke="#000" stroke-width="0.7"/>
<circle cx="512.50" cy="266.4" r="1.55" fill="none" stroke="#000" stroke-width="0.7"/>
<circle cx="513.00" cy="266.4" r="1.55" fill="none" stroke="#000" stroke-width="0.7"/>
<circle cx="513.50" cy="266.4" r="1.55" fill="none" stroke="#000" stroke-width="0.7"/>
<circle cx="514.00" cy="266.4" r="1.55" fill="none" stroke="#000" stroke-width="0.7"/>
<circle cx="514.50" cy="266.4" r="1.55" fill="none" stroke="#000" stroke-width="0.7"/>
<circle cx="515.00" cy="266.4" r="1.55" fill="none" stroke="#000" stroke-width="0.7"/>
<circle cx="515.50" cy="266.4" r="1.55" fill="none" stroke="#000" stroke-width="0.7"/>
<circle cx="516.00" cy="266.4" r="1.55" fill="none" stroke="#000" stroke-width="0.7"/>
<circle cx="516.50" cy="266.4" r="1.55" fill="none" stroke="#000" stroke-width="0.7"/>
<circle cx="517.00" cy="266.4" r="1.55" fill="none" stroke="#000" stroke-width="0.7"/>
<circle cx="517.50" cy="266.4" r="1.55" fill="none" stroke="#000" stroke-width="0.7"/>
<circle cx="518.00" cy="266.4" r="1.55" fill="none" stroke="#000" stroke-width="0.7"/>
<circle cx="518.50" cy="266.4" r="1.55" fill="none" stroke="#000" stroke-width="0.7"/>
<circle cx="519.00" cy="266.4" r="1.55" fill="none" stroke="#000" stroke-width="0.7"/>
<circle cx="519.50" cy="266.4" r="1.55" fill="none" stroke="#000" stroke-width="0.7"/>
<circle cx="520.00" cy="266.4" r="1.55" fill="none" stroke="#000" stroke-width="0.7"/>
<circle cx="520.50" cy="266.4" r="1.55" fill="none" stroke="#000" stroke-width="0.7"/>
<circle cx="521.00" cy="266.4" r="1.55" fill="none" stroke="#000" stroke-width="0.7"/>
<circle cx="521.50" cy="266.4" r="1.55" fill="none" stroke="#000" stroke-width="0.7"/>
<circle cx="522.00" cy="266.4" r="1.55" fill="none" stroke="#000" stroke-width="0.7"/>
<circle cx="522.50" cy="266.4" r="1.55" fill="none" stroke="#000" stroke-width="0.7"/>
<circle cx="523.00" cy="266.4" r="1.55" fill="none" stroke="#000" stroke-width="0.7"/>
<circle cx="523.50" cy="266.4" r="1.55" fill="none" stroke="#000" stroke-width="0.7"/>
<circle cx="524.00" cy="266.4" r="1.55" fill="none" stroke="#000" stroke-width="0.7"/>
<circle cx="524.50" cy="266.4" r="1.55" fill="none" stroke="#000" stroke-width="0.7"/>
<circle cx="525.00" cy="266.4" r="1.55" fill="none" stroke="#000" stroke-width="0.7"/>
<circle cx="525.50" cy="266.4" r="1.55" fill="none" stroke="#000" stroke-width="0.7"/>
<circle cx="526.00" cy="266.4" r="1.55" fill="none" stroke="#000" stroke-width="0.7"/>
<circle cx="526.50" cy="266.4" r="1.55" fill="none" stroke="#000" stroke-width="0.7"/>
<circle cx="527.00" cy="266.4" r="1.55" fill="none" stroke="#000" stroke-width="0.7"/>
<circle cx="527.50" cy="266.4" r="1.55" fill="none" stroke="#000" stroke-width="0.7"/>
<circle cx="528.00" cy="266.4" r="1.55" fill="none" stroke="#000" stroke-width="0.7"/>
<circle cx="529.50" cy="266.4" r="1.55" fill="none" stroke="#000" stroke-width="0.7"/>
<circle cx="531.40" cy="266.4" r="1.55" fill="none" stroke="#000" stroke-width="0.7"/>
<circle cx="533.80" cy="266.4" r="1.55" fill="none" stroke="#000" stroke-width="0.7"/>
<circle cx="536.50" cy="266.4" r="1.55" fill="none" stroke="#000" stroke-width="0.7"/>
<line x1="299.20" y1="331.6" x2="299.20" y2="333.20000000000005" stroke="#333" stroke-width="0.5"/>
<text x="299.20" y="339.0" text-anchor="middle" font-size="5.4">0.00</text>
<line x1="337.58" y1="331.6" x2="337.58" y2="333.20000000000005" stroke="#333" stroke-width="0.5"/>
<text x="337.58" y="339.0" text-anchor="middle" font-size="5.4">0.02</text>
<line x1="375.96" y1="331.6" x2="375.96" y2="333.20000000000005" stroke="#333" stroke-width="0.5"/>
<text x="375.96" y="339.0" text-anchor="middle" font-size="5.4">0.04</text>
<line x1="414.34" y1="331.6" x2="414.34" y2="333.20000000000005" stroke="#333" stroke-width="0.5"/>
<text x="414.34" y="339.0" text-anchor="middle" font-size="5.4">0.06</text>
<line x1="452.72" y1="331.6" x2="452.72" y2="333.20000000000005" stroke="#333" stroke-width="0.5"/>
<text x="452.72" y="339.0" text-anchor="middle" font-size="5.4">0.08</text>
<line x1="491.10" y1="331.6" x2="491.10" y2="333.20000000000005" stroke="#333" stroke-width="0.5"/>
<text x="491.10" y="339.0" text-anchor="middle" font-size="5.4">0.10</text>
<line x1="529.48" y1="331.6" x2="529.48" y2="333.20000000000005" stroke="#333" stroke-width="0.5"/>
<text x="529.48" y="339.0" text-anchor="middle" font-size="5.4">0.12</text>
<line x1="293.4" y1="266.40" x2="295.0" y2="266.40" stroke="#333" stroke-width="0.5"/>
<text x="292.0" y="268.60" text-anchor="end" font-size="5.4">1</text>
<text x="421.6" y="198.4" text-anchor="middle" font-size="6.3" textLength="21.2" lengthAdjust="spacing" style="stroke-width:0.1px">Boxplot</text>
</svg></body></html>
